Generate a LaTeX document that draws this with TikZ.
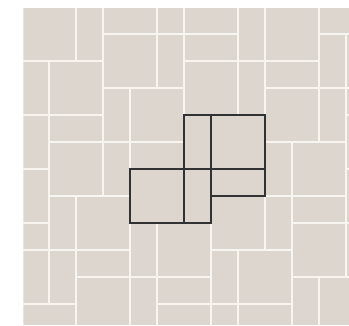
\documentclass[tikz,border=0pt]{standalone}
\definecolor{tilefill}{RGB}{221,214,206}
\definecolor{joint}{RGB}{248,245,241}
\definecolor{outline}{RGB}{50,50,50}
\tikzset{
  jointline/.style={draw=joint, line width=1.9pt},
  hiline/.style={draw=outline, line width=1.6pt, line join=miter},
}
\begin{document}
\begin{tikzpicture}[x=1pt,y=1pt]
\useasboundingbox (0,0) rectangle (349,-325);
\fill[white] (0,0) rectangle (349,-325);
\begin{scope}
\clip (23.4,-8.4) rectangle (349,-325);
\fill[tilefill] (0,0) rectangle (349,-325);
\begin{scope}[shift={(22.35,-7.3)}, x={(26.95pt,0pt)}, y={(0pt,-26.97pt)}]
\foreach \m in {-5,...,7}{
  \foreach \n in {-3,...,4}{
    \pgfmathtruncatemacro\cx{3*\m+\n}
    \pgfmathtruncatemacro\cy{\m+5*\n}
    \draw[jointline] (\cx,\cy) rectangle ++(2,2);
    \draw[jointline] (\cx+2,\cy-2) rectangle ++(1,2);
    \draw[jointline] (\cx+2,\cy) rectangle ++(1,2);
    \draw[jointline] (\cx+3,\cy-2) rectangle ++(2,2);
    \draw[jointline] (\cx+3,\cy) rectangle ++(2,1);
  }
}
\draw[hiline] (4,6) rectangle (6,8);
\draw[hiline] (6,4) rectangle (7,6);
\draw[hiline] (6,6) rectangle (7,8);
\draw[hiline] (7,4) rectangle (9,6);
\draw[hiline] (7,6) rectangle (9,7);
\end{scope}
\end{scope}
\end{tikzpicture}
\end{document}
